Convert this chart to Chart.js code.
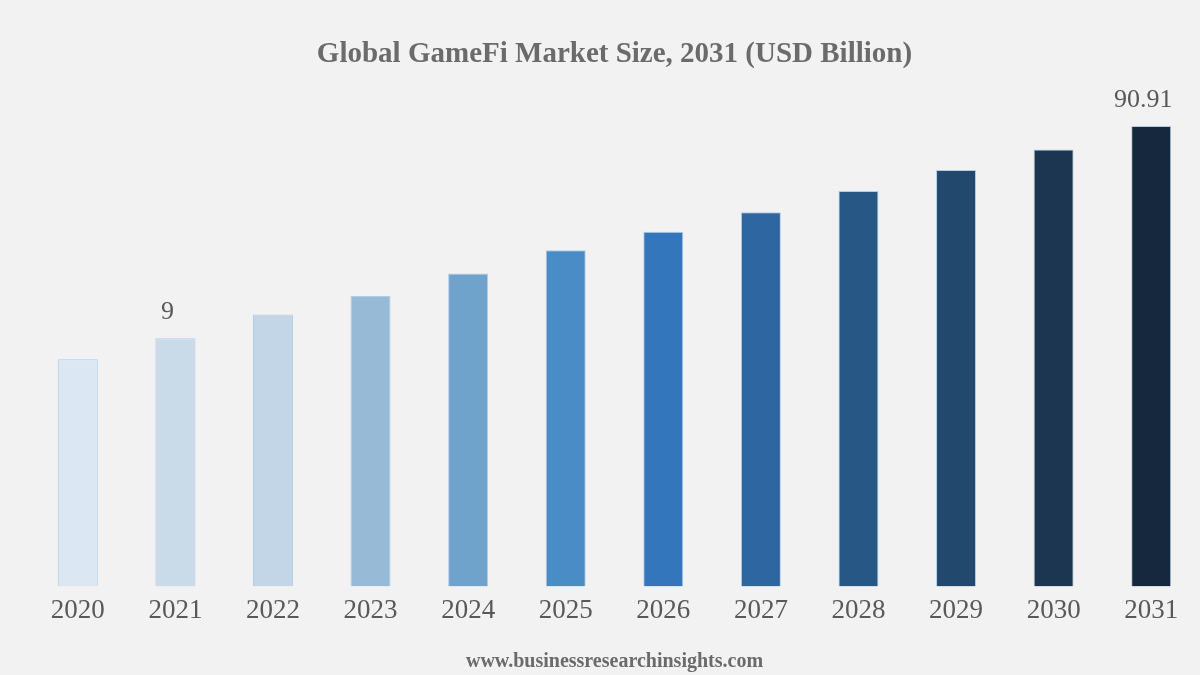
<!DOCTYPE html>
<html>
<head>
<meta charset="utf-8">
<title>Global GameFi Market Size</title>
<script src="https://cdn.jsdelivr.net/npm/chart.js@4"></script>
<style>
  html, body { margin: 0; padding: 0; background: #f2f2f2; }
  #wrap { position: relative; width: 1200px; height: 675px; }
</style>
</head>
<body>
<div id="wrap"><canvas id="chart-gamefi"></canvas></div>
<script>
  // 연도별 시장 규모 (USD Billion) — 2021, 2031만 값 표기
  const years = ['2020', '2021', '2022', '2023', '2024', '2025', '2026', '2027', '2028', '2029', '2030', '2031'];
  const marketSize = [7.15, 9, 11.66, 14.28, 18.24, 23.46, 28.73, 35.52, 44.83, 56.37, 70.54, 90.91];
  const labelledYears = ['2021', '2031'];
  const barColors = ['#dbe7f2', '#c9dae9', '#c2d6e7', '#97bbd7', '#6fa3cb', '#4a8cc5',
    '#3476bb', '#2e66a2', '#275784', '#22496d', '#1c3652', '#15283d'];

  const SERIF = "'Liberation Serif', 'Times New Roman', serif";

  // 막대 위 값 라벨
  const valueLabels = {
    id: 'valueLabels',
    afterDatasetsDraw(chart) {
      const ctx = chart.ctx;
      const meta = chart.getDatasetMeta(0);
      ctx.save();
      ctx.font = '26px ' + SERIF;
      ctx.fillStyle = '#595959';
      ctx.textAlign = 'center';
      ctx.textBaseline = 'alphabetic';
      meta.data.forEach((bar, i) => {
        if (!labelledYears.includes(years[i])) return;
        ctx.fillText(String(marketSize[i]), bar.x - 8, bar.y - 19);
      });
      ctx.restore();
    },
  };

  new Chart(document.getElementById('chart-gamefi').getContext('2d'), {
    type: 'bar',
    data: {
      labels: years,
      datasets: [{
        label: 'Market Size (USD Billion)',
        data: marketSize,
        backgroundColor: barColors,
        borderColor: 'rgba(170, 200, 230, 0.9)',
        borderWidth: 1,
        barPercentage: 0.41,
        categoryPercentage: 1,
      }],
    },
    options: {
      responsive: true, maintainAspectRatio: false, animation: false,
      layout: { padding: { left: 29, right: 0, top: 0, bottom: 0 } },
      plugins: {
        legend: { display: false },
        tooltip: { enabled: false },
        title: {
          display: true,
          text: 'Global GameFi Market Size, 2031 (USD Billion)',
          color: '#6b6b6b',
          font: { family: SERIF, size: 29, weight: 'bold' },
          padding: { top: 37, bottom: 7 },
        },
        subtitle: {
          display: true,
          position: 'bottom',
          text: 'www.businessresearchinsights.com',
          color: '#6b6b6b',
          font: { family: SERIF, size: 20, weight: 'bold' },
          padding: { top: 15, bottom: 1 },
        },
      },
      scales: {
        x: {
          offset: true,
          grid: { display: false, drawTicks: false },
          border: { display: false },
          ticks: { color: '#595959', padding: 8, font: { family: SERIF, size: 27 } },
        },
        y: {
          type: 'logarithmic',
          display: false,
          bounds: 'data',
          min: 0.6,
          max: 152.3,
        },
      },
    },
    plugins: [valueLabels],
  });
</script>
</body>
</html>
